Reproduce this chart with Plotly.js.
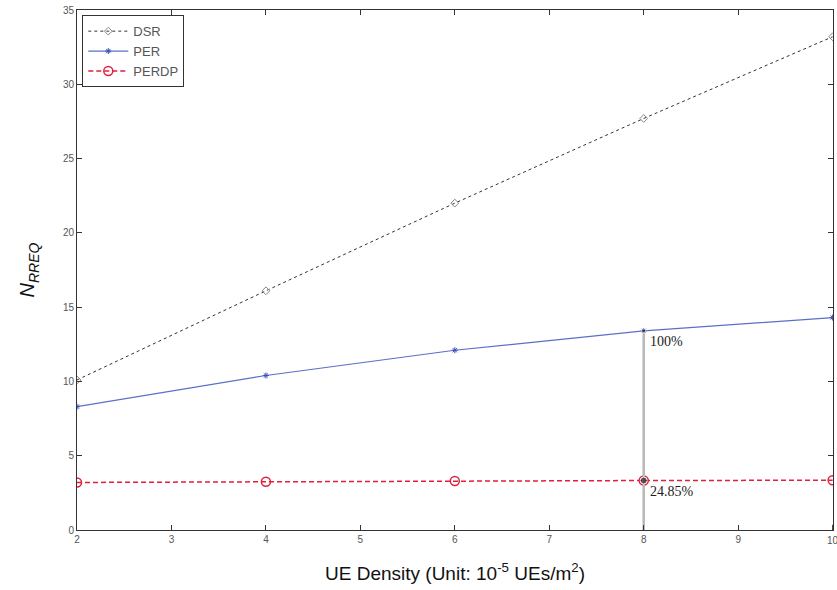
<!DOCTYPE html>
<html><head><meta charset="utf-8">
<script src="https://cdn.plot.ly/plotly-3.0.1.min.js"></script>
<style>body{margin:0;background:#fff}#c{width:837px;height:590px}</style>
</head><body><div id="c"></div>
<script>
const density = [2, 4, 6, 8, 10];
const dsr = [10.1, 16.1, 22.0, 27.7, 33.2];
const per = [8.3, 10.4, 12.1, 13.4, 14.3];
const perdp = [3.2, 3.25, 3.3, 3.33, 3.35];
const markX = 8;
const markPer = 13.4;
const markPerdp = 3.33;
const labels = ["100%", "24.85%"];
const xTicks = [2, 3, 4, 5, 6, 7, 8, 9, 10];
const yTicks = [0, 5, 10, 15, 20, 25, 30, 35];

const traces = [
  {x: density, y: dsr, name: 'DSR', mode: 'lines+markers',
   line: {color: '#333', width: 1, dash: 'dot'},
   marker: {symbol: 'diamond-open', size: 6, color: '#888', line: {width: 1}}},
  {x: density, y: per, name: 'PER', mode: 'lines+markers',
   line: {color: '#5a6fc8', width: 1.2},
   marker: {symbol: 'asterisk-open', size: 5, color: '#3a4fb8', line: {width: 1, color: '#3a4fb8'}}},
  {x: density, y: perdp, name: 'PERDP', mode: 'lines+markers',
   line: {color: '#e0203c', width: 1.5, dash: '5px,3px'},
   marker: {symbol: 'circle-open', size: 9, color: '#e0203c', line: {width: 1.5}}},
  {x: [markX, markX], y: [0, markPer], mode: 'lines', showlegend: false,
   line: {color: '#b8b8b8', width: 2.5}, hoverinfo: 'skip'},
  {x: [markX, markX], y: [markPer, markPerdp], mode: 'markers', showlegend: false,
   marker: {symbol: ['square', 'circle'], size: [4, 7], color: '#222'}}
];

const lastTick = xTicks[xTicks.length - 1];
const layout = {
  width: 837, height: 590,
  margin: {l: 77, r: 4, t: 10, b: 60},
  paper_bgcolor: '#fff', plot_bgcolor: '#fff',
  font: {family: 'Liberation Sans, Arial, sans-serif', color: '#333'},
  xaxis: {range: [2, 10.004], tickvals: xTicks.slice(0, -1), ticks: 'inside', ticklen: 5,
    showgrid: false, zeroline: false, showline: true, mirror: 'ticks',
    linecolor: '#333', linewidth: 1, tickcolor: '#333',
    tickfont: {size: 10, color: '#555'},
    title: {text: 'UE Density (Unit: 10<sup>-5</sup> UEs/m<sup>2</sup>)', font: {size: 19, color: '#111'}, standoff: 22}},
  yaxis: {range: [0, 35], tickvals: yTicks, ticks: 'inside', ticklen: 5,
    showgrid: false, zeroline: false, showline: true, mirror: 'ticks',
    linecolor: '#333', linewidth: 1, tickcolor: '#333',
    tickfont: {size: 10, color: '#555'},
    title: {text: '<i>N</i><sub><i>RREQ</i></sub>', font: {size: 20, color: '#111'}, standoff: 22}},
  legend: {x: 0.007, y: 0.99, xanchor: 'left', yanchor: 'top',
    bgcolor: '#fff', bordercolor: '#333', borderwidth: 1,
    font: {size: 13, color: '#555'}, tracegroupgap: 0, itemwidth: 40},
  annotations: [
    {x: markX, y: markPer, text: labels[0], showarrow: false, xanchor: 'left', yanchor: 'top',
     xshift: 4, yshift: -1, font: {family: 'Liberation Serif, serif', size: 14, color: '#222'}},
    {x: markX, y: markPerdp, text: labels[1], showarrow: false, xanchor: 'left', yanchor: 'top',
     xshift: 4, yshift: -1, font: {family: 'Liberation Serif, serif', size: 14, color: '#222'}},
    {x: lastTick, xref: 'x', y: 0, yref: 'paper', text: String(lastTick), showarrow: false,
     xanchor: 'center', yanchor: 'top', yshift: -3, font: {size: 10, color: '#555'}}
  ],
  shapes: [
    {type: 'line', xref: 'x', yref: 'paper', x0: lastTick, x1: lastTick, y0: 0, y1: 0.01,
     line: {color: '#333', width: 1}}
  ]
};
Plotly.newPlot('c', traces, layout, {displayModeBar: false});
</script></body></html>
